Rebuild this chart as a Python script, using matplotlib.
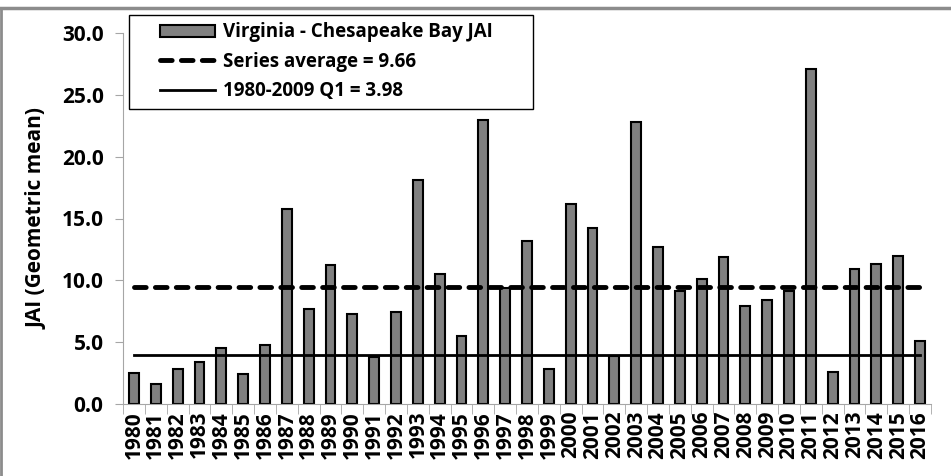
import numpy as np
import matplotlib.pyplot as plt
from matplotlib.lines import Line2D
from matplotlib.legend_handler import HandlerLine2D, HandlerPatch

plt.rcParams['font.family'] = ['Open Sans', 'DejaVu Sans']

# Данные
years = [str(y) for y in range(1980, 2017)]
jai = [2.5, 1.6, 2.8, 3.4, 4.5, 2.4, 4.8, 15.8, 7.7, 11.2,
       7.3, 3.8, 7.4, 18.1, 10.5, 5.5, 23.0, 9.4, 13.2, 2.8,
       16.2, 14.2, 3.9, 22.8, 12.7, 9.1, 10.1, 11.9, 7.9, 8.4,
       9.1, 27.1, 2.6, 10.9, 11.3, 12.0, 5.1]
avg_label = 9.66
avg_line = 9.5
q1 = 3.98
yticks = [0, 5, 10, 15, 20, 25, 30]

fig = plt.figure(figsize=(9.51, 4.76), dpi=100)
ax = fig.add_axes([123 / 951, 1 - 404 / 476, 808 / 951, 371 / 476])

x = np.arange(len(years))
bars = ax.bar(x, jai, width=0.45, color='#808080', edgecolor='black', linewidth=1.5,
              zorder=2)
l_avg, = ax.plot([x[0], x[-1]], [avg_line, avg_line], color='black',
                 linestyle=(0, (2.4, 1.9)), dash_capstyle='round', linewidth=3.5,
                 zorder=3)
l_q1, = ax.plot([x[0], x[-1]], [q1, q1], color='black', linewidth=2, zorder=3)

ax.set_xlim(-0.5, len(years) - 0.5)
ax.set_ylim(0, 30)
ax.set_yticks(yticks)
ax.set_yticklabels([f'{v:.1f}' for v in yticks], fontsize=15, fontweight='bold')
ax.set_xticks(x)
ax.set_xticklabels(years, rotation=90, fontsize=15, fontweight='bold')
ax.set_xticks(np.arange(-0.5, len(years)), minor=True)
ax.tick_params(axis='x', which='major', length=0, pad=5)
ax.tick_params(axis='x', which='minor', length=7, color='#a6a6a6', direction='out')
ax.tick_params(axis='y', length=6, color='#a6a6a6', pad=8)
for s in ['top', 'right']:
    ax.spines[s].set_visible(False)
for s in ['left', 'bottom']:
    ax.spines[s].set_color('#a6a6a6')
ax.set_ylabel('JAI (Geometric mean)', fontsize=15, fontweight='bold', labelpad=10)

bar_h = bars.patches[0]
hmap = {bar_h: HandlerPatch(xpad=1.25), l_avg: HandlerLine2D(xpad=1.25),
        l_q1: HandlerLine2D(xpad=1.25)}
labels = ['Virginia - Chesapeake Bay JAI', f'Series average = {avg_label:.2f}',
          f'1980-2009 Q1 = {q1:.2f}']
leg = ax.legend([bar_h, l_avg, l_q1], labels, handler_map=hmap, loc='upper left',
                bbox_to_anchor=(129 / 951, 1 - 108 / 476, 404 / 951, 93 / 476),
                mode='expand', bbox_transform=fig.transFigure, borderaxespad=0,
                fancybox=False, edgecolor='black', framealpha=1, fontsize=13.5,
                handlelength=4.2, handleheight=0.65, handletextpad=0.4,
                labelspacing=0.5, borderpad=0.4)
leg.get_frame().set_linewidth(1.0)
for t in leg.get_texts():
    t.set_fontweight('bold')

# рамка вокруг рисунка
fig.add_artist(Line2D([0, 1], [1 - 8 / 476] * 2, color='#8c8c8c', linewidth=2.5,
                      transform=fig.transFigure))
fig.add_artist(Line2D([1 / 951] * 2, [0, 1 - 8 / 476], color='#8c8c8c', linewidth=2,
                      transform=fig.transFigure))

plt.savefig('out.png', dpi=100)
